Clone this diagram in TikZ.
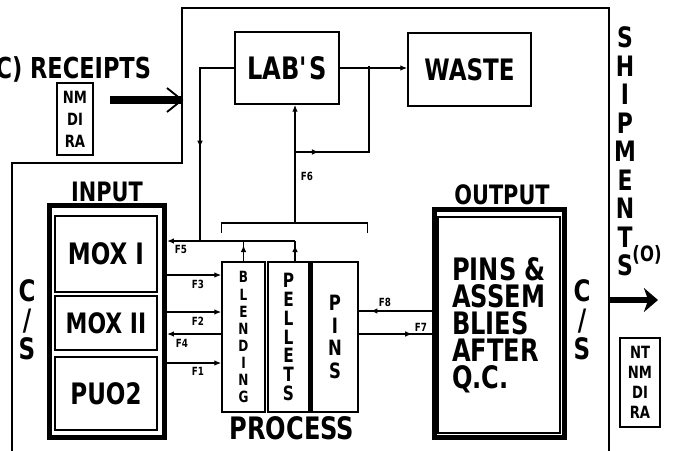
\documentclass[tikz,border=0pt]{standalone}
\usepackage{fontspec}
\setmainfont{DejaVu Sans}[FakeStretch=0.78]
\usetikzlibrary{arrows.meta,decorations.markings,calc}
\newcommand\pxu{0.025cm}

\begin{document}
\begin{tikzpicture}[
    x=0.025cm, y=-0.025cm,
    font=\bfseries,
    box/.style      ={draw, line width=1pt, inner sep=0pt, align=center},
    thickbox/.style ={draw, line width=3.5pt, inner sep=0pt},
    idbox/.style    ={draw, line width=0.8pt, inner sep=0pt, align=center, font=\bfseries\fontsize{12}{15.6}\selectfont},
    stack/.style    ={align=center, inner sep=0pt},
    flab/.style     ={font=\bfseries\fontsize{8}{8}\selectfont, inner sep=0pt},
    flow/.style     ={line width=1pt},
    flowtip/.style  ={-{Latex[length=5pt,width=4pt]}},
    midarrow/.style ={postaction={decorate}, decoration={markings, mark=at position #1 with {\arrow{Latex[length=5pt,width=4pt]}}}},
  ]
  \useasboundingbox (0,0) rectangle (682,450);
  % plant boundary
  \draw[flow] (12,455) -- (12,163) -- (182,163) -- (182,8) -- (609,8) -- (609,455);
  % top row
  \node[box, minimum width=104*\pxu, minimum height=72*\pxu, font=\bfseries\fontsize{22}{22}\selectfont] (labs) at (287,68) {LAB\textquotesingle S};
  \node[box, minimum width=123*\pxu, minimum height=73*\pxu, font=\bfseries\fontsize{21}{21}\selectfont] (waste) at (469.5,69.5) {WASTE};
  % input side
  \node[thickbox, minimum width=115*\pxu, minimum height=232*\pxu] (input) at (107,321.5) {};
  \node[font=\bfseries\fontsize{19}{19}\selectfont] (input-lbl) at (107,192) {INPUT};
  \node[box, minimum width=102*\pxu, minimum height=76*\pxu, font=\bfseries\fontsize{21}{21}\selectfont] (mox1) at (106,254) {MOX I};
  \node[box, minimum width=102*\pxu, minimum height=54*\pxu, font=\bfseries\fontsize{20}{20}\selectfont] (mox2) at (106,323) {MOX II};
  \node[box, minimum width=102*\pxu, minimum height=73*\pxu, font=\bfseries\fontsize{21}{21}\selectfont] (puo2) at (106,393.5) {PUO2};
  \node[stack, font=\bfseries\fontsize{21}{20.6}\selectfont] (cs-in) at (27,320) {C\\/\\S};
  % process columns
  \node[box, minimum width=43*\pxu, minimum height=150*\pxu, font=\bfseries\fontsize{11}{12.1}\selectfont] (blend) at (243.5,337) {B\\L\\E\\N\\D\\I\\N\\G};
  \node[box, minimum width=41*\pxu, minimum height=150*\pxu, font=\bfseries\fontsize{14}{13.3}\selectfont] (pellets) at (288.5,337) {P\\E\\L\\L\\E\\T\\S};
  \node[box, minimum width=46*\pxu, minimum height=150*\pxu, font=\bfseries\fontsize{15}{16.1}\selectfont] (pins) at (335,337) {P\\I\\N\\S};
  \draw[line width=2.2pt] (pins.north west) -- (pins.south west);
  \node[font=\bfseries\fontsize{22}{22}\selectfont] (process) at (292,428) {PROCESS};
  % output side
  \node[thickbox, minimum width=130*\pxu, minimum height=228*\pxu] (output) at (499.5,323.5) {};
  \node[font=\bfseries\fontsize{19}{19}\selectfont] (output-lbl) at (502,195) {OUTPUT};
  \node[box, minimum width=122*\pxu, minimum height=216*\pxu, align=left, font=\bfseries\fontsize{22}{19.2}\selectfont] (qc) at (499,325) {PINS \&\\ASSEM\\BLIES\\AFTER\\Q.C.};
  \node[stack, font=\bfseries\fontsize{21}{20.6}\selectfont] (cs-out) at (582,320) {C\\/\\S};
  % receipts and shipments
  \node[anchor=east, font=\bfseries\fontsize{20.5}{20.5}\selectfont] (rcpt) at (156,69) {(C) RECEIPTS};
  \node[idbox, minimum width=36*\pxu, minimum height=72*\pxu] (rcpt-id) at (75,119) {NM\\DI\\RA};
  \node[stack, font=\bfseries\fontsize{20}{20.3}\selectfont] (ship) at (625,151.5) {S\\H\\I\\P\\M\\E\\N\\T\\S};
  \node[font=\bfseries\fontsize{15}{15}\selectfont] (ship-o) at (647,255) {(O)};
  \node[idbox, minimum width=40*\pxu, minimum height=89*\pxu, font=\bfseries\fontsize{12}{14.2}\selectfont] (ship-id) at (640,382.5) {NT\\NM\\DI\\RA};
  % flow rows and joints
  \coordinate (r5) at (0,241);
  \coordinate (r3) at (0,275);
  \coordinate (r2) at (0,312);
  \coordinate (r4) at (0,334);
  \coordinate (r1) at (0,363);
  \coordinate (r8) at (0,311);
  \coordinate (r7) at (0,334);
  \coordinate (brk) at (295,223);
  \coordinate (f6-split) at (295,152);
  \coordinate (w-join) at (369,66);
  \coordinate (lab-drop) at (200,241);
  \coordinate (rcpt-tail) at (110,100);
  \coordinate (rcpt-head) at (182,100);
  \coordinate (ship-tail) at (609,300);
  \coordinate (ship-head) at (658,300);
  % big arrows across the boundary
  \draw[line width=6pt] (rcpt-tail) -- (rcpt-head);
  \draw[line width=1.3pt] ($(rcpt-head)+(-15,-12)$) -- (rcpt-head) -- ($(rcpt-head)+(-15,12)$);
  \draw[line width=4.5pt, -{Stealth[length=10pt,width=17pt,inset=3pt]}] (ship-tail) -- (ship-head);
  % lab loop
  \draw[flow, flowtip] (labs.east) -- (labs.east -| waste.west);
  \draw[flow, midarrow=0.55] (labs.west) -| (lab-drop);
  \draw[flow] ($(blend.north west |- brk)+(0,10)$) -- (blend.north west |- brk) -- ($(pins.north east |- brk)+(9,0)$) -- ++(0,10);
  \draw[flow, flowtip] (brk) -- (brk |- labs.south);
  \draw[flow, midarrow=0.15] (f6-split) -| (w-join);
  \node[flab] (f6) at (307,176) {F6};
  % returns to input (F5)
  \draw[flow, midarrow=0.8] (blend.north) -- (blend.north |- r5);
  \draw[flow, midarrow=0.8] (pellets.north -| brk) -- (r5 -| brk);
  \draw[flow, flowtip] (r5 -| brk) -- (r5 -| input.east);
  \node[flab] (f5) at (181,249) {F5};
  % feeds to blending
  \draw[flow, flowtip] (input.east |- r3) -- (blend.west |- r3);
  \draw[flow, flowtip] (input.east |- r2) -- (blend.west |- r2);
  \draw[flow, flowtip] (blend.west |- r4) -- (input.east |- r4);
  \draw[flow, flowtip] (input.east |- r1) -- (blend.west |- r1);
  \node[flab] (f3) at (198,284) {F3};
  \node[flab] (f2) at (198,321) {F2};
  \node[flab] (f4) at (182,343) {F4};
  \node[flab] (f1) at (198,371) {F1};
  % pins and output
  \draw[flow, midarrow=0.84] (output.west |- r8) -- (pins.east |- r8);
  \draw[flow, midarrow=0.73] (pins.east |- r7) -- (output.west |- r7);
  \node[flab] (f8) at (385,302) {F8};
  \node[flab] (f7) at (421,327) {F7};
\end{tikzpicture}
\end{document}
